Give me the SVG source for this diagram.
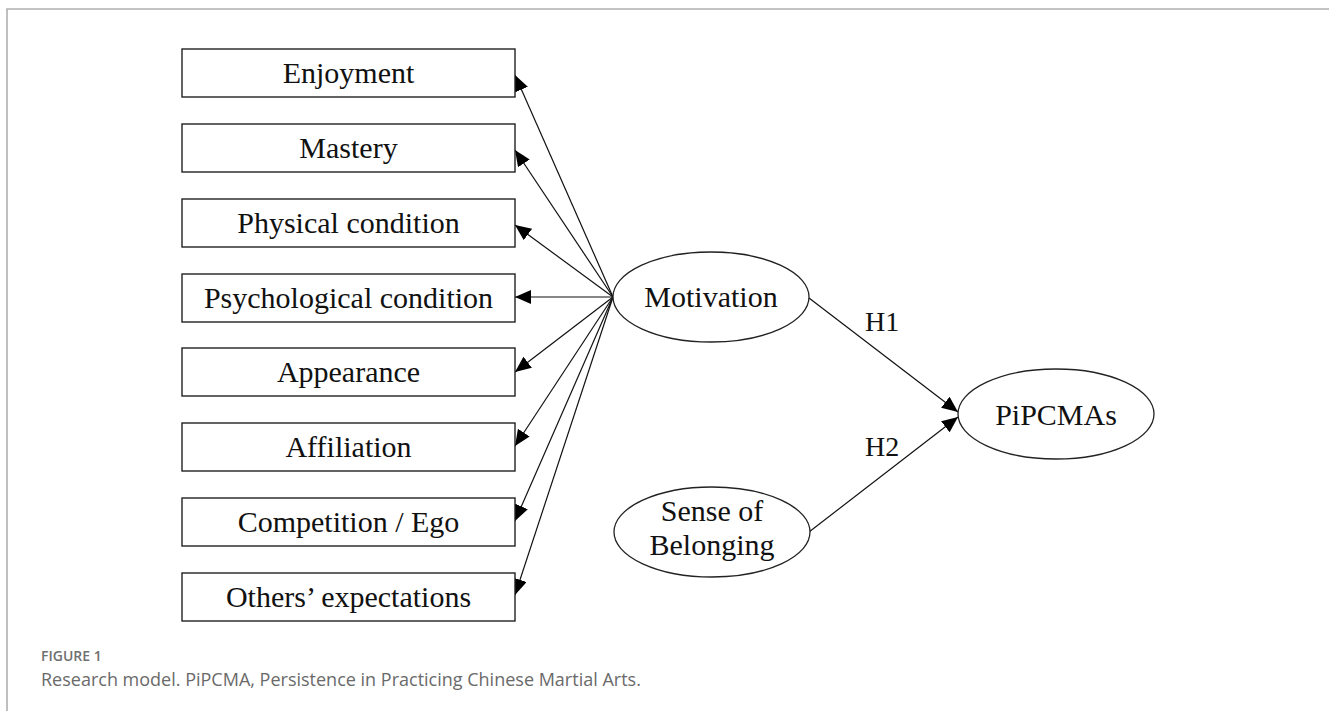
<svg xmlns="http://www.w3.org/2000/svg" width="1329" height="711" viewBox="0 0 1329 711">
  <style>
    .box { fill: #ffffff; stroke: #222222; stroke-width: 1.4; }
    .ell { fill: #ffffff; stroke: #222222; stroke-width: 1.3; }
    .lbl { font-family: "Liberation Serif", "Times New Roman", serif; font-size: 30px; fill: #111111; text-anchor: middle; }
    .hyp { font-family: "Liberation Serif", "Times New Roman", serif; font-size: 28px; fill: #111111; }
    .edge { stroke: #111111; stroke-width: 1.2; fill: none; marker-end: url(#arrow); }
    .frame { stroke: #b0b0b0; stroke-width: 1.6; fill: none; }
    .fig { font-family: "Open Sans", "Noto Sans", sans-serif; font-size: 14px; font-weight: 600; fill: #6f6f6f; }
    .cap { font-family: "Open Sans", "Noto Sans", sans-serif; font-size: 18px; fill: #6a6a6a; }
  </style>
  <defs>
    <marker id="arrow" markerUnits="userSpaceOnUse" markerWidth="17" markerHeight="14" refX="16" refY="7" orient="auto">
      <path d="M0,0 L16,7 L0,14 z" fill="#000000"/>
    </marker>
  </defs>
  <rect width="1329" height="711" fill="#ffffff"/>
  <g id="frame">
    <path class="frame" d="M7,711 L7,9 L1329,9"/>
  </g>

  <g id="connectors">
    <line class="edge" x1="613" y1="297" x2="515" y2="75"/>
    <line class="edge" x1="613" y1="297" x2="515" y2="150"/>
    <line class="edge" x1="613" y1="297" x2="515" y2="225"/>
    <line class="edge" x1="613" y1="297" x2="515" y2="297"/>
    <line class="edge" x1="613" y1="297" x2="515" y2="372"/>
    <line class="edge" x1="613" y1="297" x2="515" y2="446"/>
    <line class="edge" x1="613" y1="297" x2="515" y2="521"/>
    <line class="edge" x1="613" y1="297" x2="515" y2="595"/>
    <line class="edge" x1="809" y1="298" x2="958" y2="412"/>
    <line class="edge" x1="809" y1="532" x2="958" y2="417"/>
    <text class="hyp" x="865" y="331">H1</text>
    <text class="hyp" x="865" y="456">H2</text>
  </g>

  <g id="enjoyment">
    <rect class="box" x="182" y="49" width="333" height="48"/>
    <text class="lbl" x="348.5" y="83">Enjoyment</text>
  </g>
  <g id="mastery">
    <rect class="box" x="182" y="124" width="333" height="48"/>
    <text class="lbl" x="348.5" y="158">Mastery</text>
  </g>
  <g id="physical-condition">
    <rect class="box" x="182" y="199" width="333" height="48"/>
    <text class="lbl" x="348.5" y="233">Physical condition</text>
  </g>
  <g id="psychological-condition">
    <rect class="box" x="182" y="274" width="333" height="48"/>
    <text class="lbl" x="348.5" y="308">Psychological condition</text>
  </g>
  <g id="appearance">
    <rect class="box" x="182" y="348" width="333" height="48"/>
    <text class="lbl" x="348.5" y="382">Appearance</text>
  </g>
  <g id="affiliation">
    <rect class="box" x="182" y="423" width="333" height="48"/>
    <text class="lbl" x="348.5" y="457">Affiliation</text>
  </g>
  <g id="competition-ego">
    <rect class="box" x="182" y="498" width="333" height="48"/>
    <text class="lbl" x="348.5" y="532">Competition / Ego</text>
  </g>
  <g id="others-expectations">
    <rect class="box" x="182" y="573" width="333" height="48"/>
    <text class="lbl" x="348.5" y="607">Others’ expectations</text>
  </g>

  <g id="motivation">
    <ellipse class="ell" cx="711" cy="297" rx="98" ry="45"/>
    <text class="lbl" x="711" y="307">Motivation</text>
  </g>
  <g id="sense-of-belonging">
    <ellipse class="ell" cx="712" cy="532" rx="98" ry="45"/>
    <text class="lbl" x="712" y="521">Sense of</text>
    <text class="lbl" x="712" y="555">Belonging</text>
  </g>
  <g id="pipcmas">
    <ellipse class="ell" cx="1056" cy="414" rx="98" ry="45"/>
    <text class="lbl" x="1056" y="425">PiPCMAs</text>
  </g>

  <g id="caption">
    <text class="fig" x="41" y="661">FIGURE 1</text>
    <text class="cap" x="41" y="686">Research model. PiPCMA, Persistence in Practicing Chinese Martial Arts.</text>
  </g>
</svg>
